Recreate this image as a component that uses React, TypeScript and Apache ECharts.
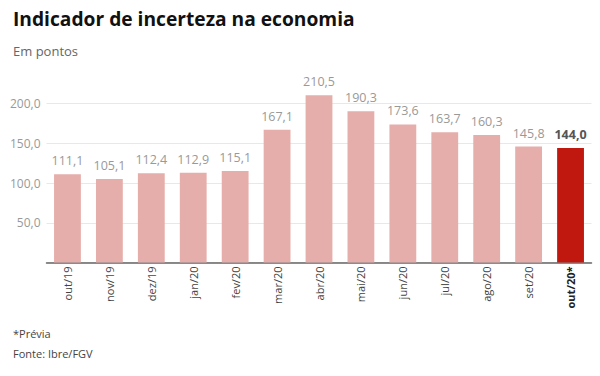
import React, { useEffect, useRef } from "react";
import * as echarts from "echarts";

const categories = ["out/19", "nov/19", "dez/19", "jan/20", "fev/20", "mar/20", "abr/20", "mai/20", "jun/20", "jul/20", "ago/20", "set/20", "out/20*"];
const values = [111.1, 105.1, 112.4, 112.9, 115.1, 167.1, 210.5, 190.3, 173.6, 163.7, 160.3, 145.8, 144.0];
const yTicks = [0, 50, 100, 150, 200];

const fmt = (v: number) => v.toFixed(1).replace(".", ",");

export default function App() {
  const ref = useRef<HTMLDivElement>(null);
  useEffect(() => {
    const chart = echarts.init(ref.current!, undefined, { renderer: "svg" });
    const last = values.length - 1;
    chart.setOption({
      animation: false,
      backgroundColor: "#ffffff",
      title: [
        { text: "Indicador de incerteza na economia", left: 8, top: 4, textStyle: { fontFamily: "Open Sans", fontWeight: "bold", fontSize: 19.2, color: "#111" } },
        { text: "Em pontos", left: 8, top: 39, textStyle: { fontFamily: "Open Sans", fontWeight: "normal", fontSize: 13, color: "#666" } },
        { text: "*Prévia", left: 8, top: 323, textStyle: { fontFamily: "Open Sans", fontWeight: "normal", fontSize: 11, color: "#444" } },
        { text: "Fonte: Ibre/FGV", left: 8, top: 343, textStyle: { fontFamily: "Open Sans", fontWeight: "normal", fontSize: 11, color: "#444" } },
      ],
      grid: { left: 46.5, right: 8.5, top: 103.5, bottom: 113.5 },
      xAxis: {
        type: "category",
        data: categories,
        axisLine: { lineStyle: { color: "#666", width: 1.5 } },
        axisTick: { show: false },
        axisLabel: {
          rotate: 90,
          margin: 4,
          fontFamily: "Open Sans",
          fontSize: 11,
          color: "#444",
          formatter: (v: string) => (v === categories[last] ? "{b|" + v + "}" : v),
          rich: { b: { fontWeight: "bold", fontFamily: "Open Sans", fontSize: 11, color: "#222" } },
        },
      },
      yAxis: {
        type: "value",
        min: yTicks[0],
        max: yTicks[yTicks.length - 1],
        interval: 50,
        axisLine: { show: false },
        axisTick: { show: false },
        splitLine: { lineStyle: { color: "#e8e8e8" } },
        axisLabel: {
          showMinLabel: false,
          margin: 6,
          fontFamily: "Open Sans",
          fontSize: 12,
          color: "#999",
          formatter: (v: number) => (v === 0 ? "" : fmt(v)),
        },
      },
      series: [
        {
          type: "bar",
          clip: false,
          barWidth: "64%",
          data: values.map((v, i) => ({
            value: v,
            itemStyle: { color: i === last ? "#c0180f" : "#e6aeab" },
            label: i === last ? { fontWeight: "bold", color: "#555" } : undefined,
          })),
          label: {
            show: true,
            position: "top",
            distance: 7,
            fontFamily: "Open Sans",
            fontSize: 12.5,
            color: "#999",
            formatter: (p: any) => fmt(p.value),
          },
        },
      ],
    });
    return () => chart.dispose();
  }, []);
  return <div ref={ref} style={{ width: 600, height: 376, position: "absolute", left: 0, top: 0 }} />;
}
